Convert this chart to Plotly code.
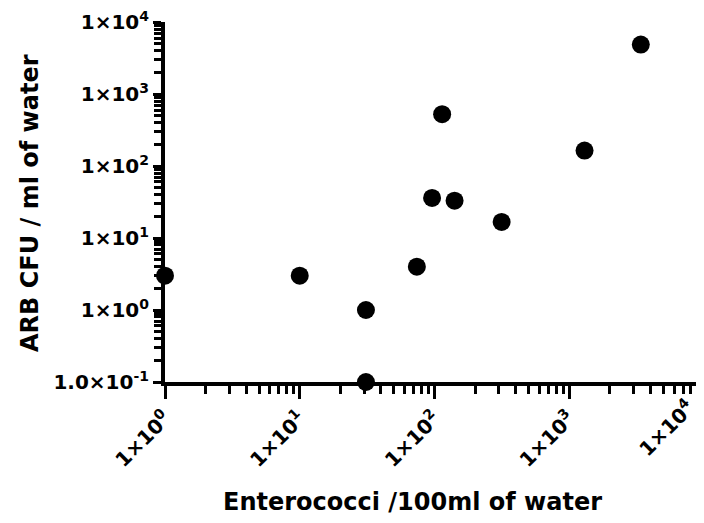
import plotly.graph_objects as go

# Data
enterococci = [1, 10, 31, 31, 74, 96, 114, 141, 315, 1300, 3400]
arb_cfu = [3, 3, 1, 0.1, 4, 36, 525, 33, 16.7, 164, 4860]

x_tick_vals = [1, 10, 100, 1000, 10000]
x_tick_text = ["1×10<sup>0</sup>", "1×10<sup>1</sup>", "1×10<sup>2</sup>",
               "1×10<sup>3</sup>", "1×10<sup>4</sup>"]
y_tick_vals = [0.1, 1, 10, 100, 1000, 10000]
y_tick_text = ["1.0×10<sup>-1</sup>", "1×10<sup>0</sup>", "1×10<sup>1</sup>",
               "1×10<sup>2</sup>", "1×10<sup>3</sup>", "1×10<sup>4</sup>"]

x_title = "Enterococci /100ml of water"
y_title = "ARB CFU / ml of water"

x_minor = [k * 10 ** n for n in range(0, 4) for k in range(2, 10)]
y_minor = [k * 10.0 ** n for n in range(-1, 4) for k in range(2, 10)]

FONT = "DejaVu Sans, Verdana, sans-serif"
# page has an 8px body offset; figure is sized to fill the rest of the window
W, H = 696, 515
ML, MR, MT, MB = 157, 0, 12, 141

fig = go.Figure()
fig.add_trace(go.Scatter(
    x=enterococci, y=arb_cfu, mode="markers",
    marker=dict(size=18, color="black"),
    cliponaxis=False, showlegend=False,
))

tick_font = dict(family=FONT, size=20, color="black", weight="bold")
axis_common = dict(
    type="log", showline=True, linewidth=4, linecolor="black",
    ticks="outside", tickwidth=3, tickcolor="black",
    showgrid=False, zeroline=False, tickfont=tick_font,
)

fig.update_xaxes(
    **axis_common, range=[0, 4.0005], tickmode="array",
    tickvals=x_tick_vals, ticktext=x_tick_text, tickangle=-45, ticklen=13,
    minor=dict(tickmode="array", tickvals=x_minor, ticks="outside",
               ticklen=8, tickwidth=3, tickcolor="black", showgrid=False),
)
fig.update_yaxes(
    **axis_common, range=[-1, 4.0005], tickmode="array",
    tickvals=y_tick_vals, ticktext=y_tick_text, ticklen=8,
    ticklabeloverflow="allow",
    minor=dict(tickmode="array", tickvals=y_minor, ticks="outside",
               ticklen=7, tickwidth=3, tickcolor="black", showgrid=False),
)

# last x tick label sits at the right edge of the page; draw it inside the div
fig.add_annotation(
    text=x_tick_text[-1], xref="x", yref="paper",
    x=4, y=0, xanchor="right", yanchor="top", textangle=-45,
    xshift=-1, yshift=-9, showarrow=False, font=tick_font,
)

pw = W - ML - MR
ph = H - MT - MB
fig.add_annotation(
    text=x_title, xref="paper", yref="paper",
    x=(404 - ML) / pw, y=-(495 - MT - ph) / ph,
    xanchor="center", yanchor="middle", showarrow=False,
    font=dict(family=FONT, size=24, color="black", weight="bold"),
)
fig.add_annotation(
    text=y_title, xref="paper", yref="paper",
    x=-(ML - 22) / pw, y=1 - (194 - MT) / ph, textangle=-90,
    xanchor="center", yanchor="middle", showarrow=False,
    font=dict(family=FONT, size=24, color="black", weight="bold"),
)

fig.update_layout(
    width=W, height=H,
    margin=dict(l=ML, r=MR, t=MT, b=MB),
    paper_bgcolor="white", plot_bgcolor="white",
)

fig.write_html("out.html")
